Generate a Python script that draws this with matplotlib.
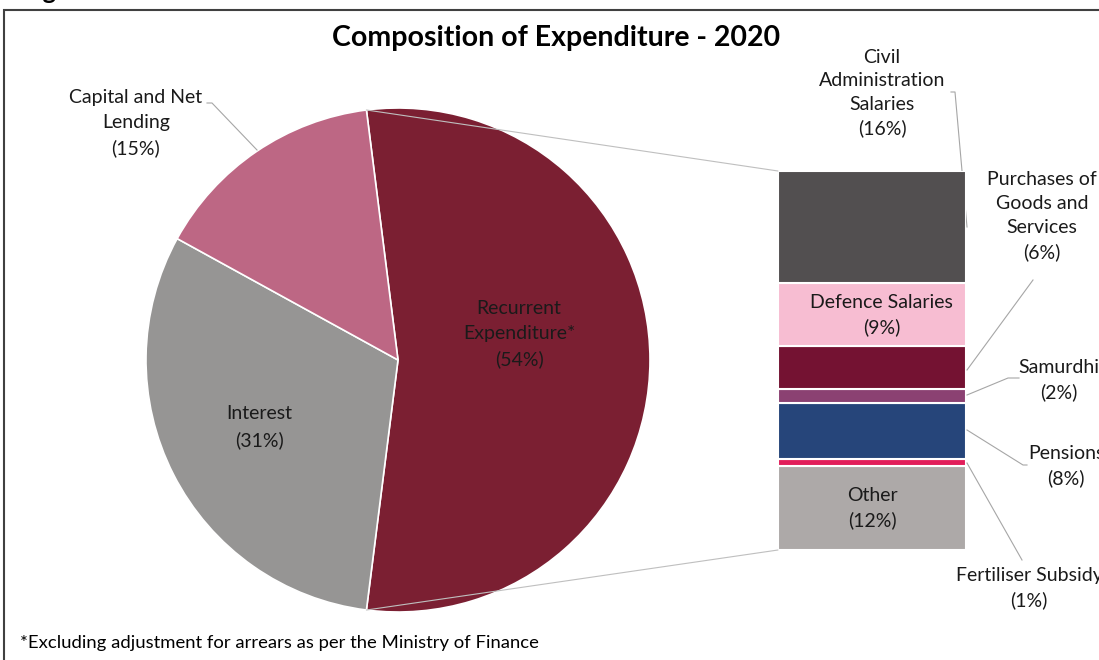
import matplotlib.pyplot as plt
from matplotlib.patches import ConnectionPatch, Rectangle
import numpy as np

plt.rcParams['font.family'] = ['Lato', 'DejaVu Sans']

# main pie: share of total expenditure (%)
pie_labels = ['Recurrent\nExpenditure*\n(54%)', 'Interest\n(31%)', 'Capital and Net\nLending\n(15%)']
pie_values = [54, 31, 15]
pie_colors = ['#7B1F32', '#969594', '#BD6784']

# breakdown of recurrent expenditure (%), top to bottom
bar_labels = ['Civil\nAdministration\nSalaries\n(16%)', 'Defence Salaries\n(9%)',
              'Purchases of\nGoods and\nServices\n(6%)', 'Samurdhi\n(2%)', 'Pensions\n(8%)',
              'Fertiliser Subsidy\n(1%)', 'Other\n(12%)']
bar_values = [16, 9, 6, 2, 8, 1, 12]
bar_colors = ['#524F50', '#F7BDD2', '#741232', '#8B4172', '#26457A', '#E11E5A', '#ADA9A8']

W, H = 1099, 660
fig = plt.figure(figsize=(W / 100, H / 100), dpi=100)
ax = fig.add_axes([0, 0, 1, 1])

# recurrent wedge sits symmetric about the horizontal, opening to the right
cx, cy, r = 398, 300, 252
sweep = pie_values[0] / 100 * 360
start = 90 + (sweep - 180) / 2
wedges, _ = ax.pie(pie_values, colors=pie_colors, startangle=start, counterclock=False,
                   center=(cx, cy), radius=r,
                   wedgeprops={'edgecolor': 'white', 'linewidth': 1.2})
ax.set_xlim(0, W)
ax.set_ylim(0, H)
ax.axis('off')

fs = 14
tc = '#1a1a1a'
ax.text(519, 660 - 334, pie_labels[0], ha='center', va='center', fontsize=fs, linespacing=1.58, color=tc)
ax.text(259, 660 - 427, pie_labels[1], ha='center', va='center', fontsize=fs, linespacing=1.58, color=tc)
ax.text(136, 660 - 123, pie_labels[2], ha='center', va='center', fontsize=fs, linespacing=1.58, color=tc)
ax.plot([207, 212, 257], [660 - 103, 660 - 103, 660 - 150], color='#A6A6A6', lw=0.8)

# stacked bar for the recurrent breakdown
bx0, by0, bw, bh = 778, 110, 188, 379
bax = fig.add_axes([bx0 / W, by0 / H, bw / W, bh / H])
vals = bar_values[::-1]
cols = bar_colors[::-1]
bottoms = np.concatenate([[0], np.cumsum(vals)[:-1]])
bax.bar(0, vals, bottom=bottoms, width=1, color=cols, edgecolor='white', linewidth=1.5)
bax.set_xlim(-0.5, 0.5)
bax.set_ylim(0, sum(bar_values))
bax.axis('off')

# labels inside the bar (Defence, Other)
mids = dict(zip(bar_labels[::-1], bottoms + np.array(vals) / 2))
bax.text(0.05, mids[bar_labels[1]], bar_labels[1], ha='center', va='center', fontsize=fs, linespacing=1.52, color=tc)
bax.text(0, mids[bar_labels[6]], bar_labels[6], ha='center', va='center', fontsize=fs, linespacing=1.52, color=tc)

# connectors from the recurrent wedge to the bar
th1 = np.deg2rad(start)
th2 = np.deg2rad(start - sweep)
for th, yb in [(th1, sum(bar_values)), (th2, 0)]:
    con = ConnectionPatch(xyA=(cx + r * np.cos(th), cy + r * np.sin(th)), coordsA=ax.transData,
                          xyB=(-0.5, yb), coordsB=bax.transData, color='#BFBFBF', lw=0.8)
    fig.add_artist(con)

# outside labels for the bar
ax.text(882, 660 - 93, bar_labels[0], ha='center', va='center', fontsize=fs, linespacing=1.46, color=tc)
ax.text(1042, 660 - 216, bar_labels[2], ha='center', va='center', fontsize=fs, linespacing=1.5, color=tc)
ax.text(1059, 660 - 380, bar_labels[3], ha='center', va='center', fontsize=fs, linespacing=1.52, color=tc)
ax.text(1066, 660 - 466, bar_labels[4], ha='center', va='center', fontsize=fs, linespacing=1.52, color=tc)
ax.text(1029, 660 - 588, bar_labels[5], ha='center', va='center', fontsize=fs, linespacing=1.46, color=tc)

lc = '#A6A6A6'
ax.plot([951, 955, 967], [660 - 92, 660 - 92, 660 - 227], color=lc, lw=0.8)
ax.plot([1033, 967], [660 - 280, 660 - 370], color=lc, lw=0.8)
ax.plot([1019, 1008, 967], [660 - 378, 660 - 378, 660 - 395], color=lc, lw=0.8)
ax.plot([1027, 1023, 967], [660 - 465, 660 - 465, 660 - 430], color=lc, lw=0.8)
ax.plot([1022, 967], [660 - 560, 660 - 463], color=lc, lw=0.8)

ax.text(556, 660 - 38, 'Composition of Expenditure - 2020', ha='center', va='center',
        fontsize=20.5, fontweight='bold', color='black')
ax.text(20, 660 - 643, '*Excluding adjustment for arrears as per the Ministry of Finance',
        ha='left', va='center', fontsize=13.3, color='black')

# chart frame and the heading above it
fig.add_artist(Rectangle((4 / W, -0.1), 1.2, (H - 10) / H + 0.1, transform=fig.transFigure,
                         fill=False, edgecolor='#404040', lw=1.5))
ax.text(22, 661, 'Figure', ha='left', va='baseline', fontsize=18, fontweight='bold', clip_on=False)

fig.savefig('out.png', dpi=100)
